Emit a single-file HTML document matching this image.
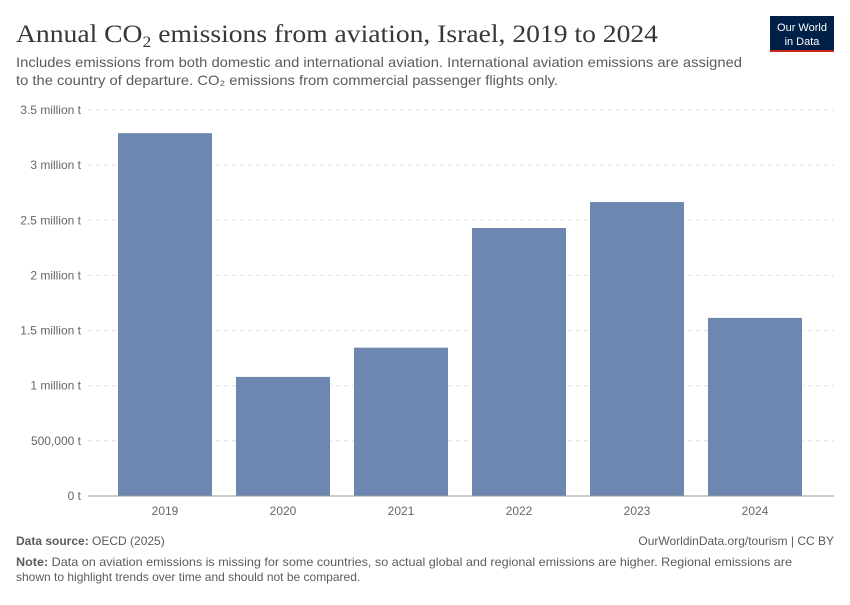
<!DOCTYPE html>
<html><head><meta charset="utf-8"><style>
body{margin:0;background:#fff;font-family:"Liberation Sans",sans-serif;}
</style></head><body>
<svg id="chart" width="850" height="600" xmlns="http://www.w3.org/2000/svg" font-family="Liberation Sans, sans-serif">
<text x="16" y="42" style="font-family:'Liberation Serif',serif" font-size="25" fill="#373737" textLength="642" lengthAdjust="spacingAndGlyphs">Annual CO<tspan font-size="16" dy="5">2</tspan><tspan dy="-5"> emissions from aviation, Israel, 2019 to 2024</tspan></text>
<text x="16" y="67" font-size="14" fill="#5b5b5b" textLength="726" lengthAdjust="spacingAndGlyphs">Includes emissions from both domestic and international aviation. International aviation emissions are assigned</text>
<text x="16" y="85" font-size="14" fill="#5b5b5b" textLength="542" lengthAdjust="spacingAndGlyphs">to the country of departure. CO₂ emissions from commercial passenger flights only.</text>
<g>
<rect x="770" y="16" width="64" height="34" fill="#002147"/>
<rect x="770" y="50" width="64" height="2" fill="#ce261e"/>
<text x="802" y="31" font-size="11" fill="#fff" text-anchor="middle">Our World</text>
<text x="802" y="45" font-size="11" fill="#fff" text-anchor="middle">in Data</text>
</g>
<g id="grid"></g><g id="bars"></g><g id="xlabels"></g>
<line x1="88" x2="834" y1="496" y2="496" stroke="#999"/>
<text x="16" y="545" font-size="12" fill="#5b5b5b"><tspan font-weight="bold">Data source:</tspan> OECD (2025)</text>
<text x="834" y="545" font-size="12" fill="#5b5b5b" text-anchor="end">OurWorldinData.org/tourism | CC BY</text>
<text x="16" y="566" font-size="12" fill="#5b5b5b" textLength="776" lengthAdjust="spacingAndGlyphs"><tspan font-weight="bold">Note:</tspan> Data on aviation emissions is missing for some countries, so actual global and regional emissions are higher. Regional emissions are</text>
<text x="16" y="581" font-size="12" fill="#5b5b5b">shown to highlight trends over time and should not be compared.</text>
</svg>
<script>
const years = ["2019","2020","2021","2022","2023","2024"];
const values = [3.29, 1.08, 1.345, 2.43, 2.665, 1.615];
const tickValues = [0,0.5,1,1.5,2,2.5,3,3.5];
const tickLabels = ["0 t","500,000 t","1 million t","1.5 million t","2 million t","2.5 million t","3 million t","3.5 million t"];
const NS="http://www.w3.org/2000/svg";
const y0=496,yTop=110,yMax=3.5;
function yS(v){return y0-(v/yMax)*(y0-yTop);}
const bandStart=106,step=118,barW=94;
function xS(i){return bandStart+i*step+(step-barW)/2;}
function mk(t,a,p){const e=document.createElementNS(NS,t);for(const k in a)e.setAttribute(k,a[k]);p.appendChild(e);return e;}
const grid=document.getElementById('grid');
tickValues.forEach((v,i)=>{
  if(v>0){const l=mk('line',{x1:88,x2:834,y1:yS(v),y2:yS(v),stroke:'#ddd','stroke-dasharray':'4,4'},grid);
  
  }
  const t=mk('text',{x:81,y:yS(v)+4,'font-size':12,fill:'#666','text-anchor':'end'},grid);
  t.textContent=tickLabels[i];
  
  
});
const bars=document.getElementById('bars'),xl=document.getElementById('xlabels');
values.forEach((v,i)=>{
  const r=mk('rect',{x:xS(i),y:yS(v),width:barW,height:y0-yS(v),fill:'#6d87b0'},bars);
  
  
  const t=mk('text',{x:xS(i)+barW/2,y:515,'font-size':12,fill:'#666','text-anchor':'middle'},xl);
  t.textContent=years[i];
  
  
});
</script>
</body></html>
